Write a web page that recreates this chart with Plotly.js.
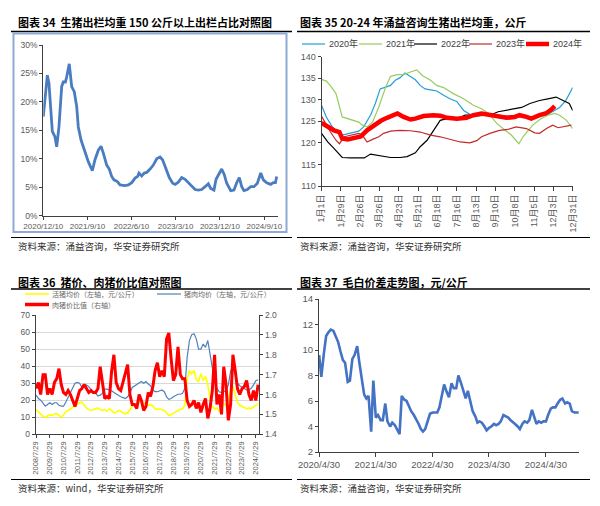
<!DOCTYPE html>
<html><head><meta charset="utf-8">
<script src="https://cdn.plot.ly/plotly-3.0.1.min.js"></script>
<style>html,body{margin:0;padding:0;background:#fff}#chart{width:600px;height:506px}</style>
</head><body><div id="chart"></div>
<script>
// ---------- 图表34 ----------
const dates34 = ['2020-12-10','2021-01-04','2021-01-14','2021-02-04','2021-02-20','2021-03-03','2021-03-17','2021-04-03','2021-04-13','2021-04-26','2021-05-04','2021-05-20','2021-06-04','2021-06-20','2021-07-05','2021-07-15','2021-08-01','2021-08-21','2021-09-15','2021-10-10','2021-10-26','2021-11-16','2021-12-03','2021-12-17','2022-01-07','2022-01-23','2022-02-07','2022-02-21','2022-03-14','2022-03-31','2022-05-01','2022-05-21','2022-06-11','2022-07-02','2022-07-18','2022-07-26','2022-08-12','2022-08-28','2022-09-12','2022-10-03','2022-10-23','2022-11-13','2022-12-04','2022-12-20','2023-01-10','2023-01-30','2023-02-20','2023-03-07','2023-03-27','2023-04-17','2023-05-08','2023-05-28','2023-06-18','2023-07-09','2023-07-29','2023-08-19','2023-09-09','2023-09-29','2023-10-14','2023-11-03','2023-11-16','2023-12-06','2023-12-21','2024-01-06','2024-01-21','2024-02-15','2024-03-06','2024-03-23','2024-04-08','2024-04-23','2024-05-07','2024-05-28','2024-06-18','2024-07-08','2024-07-29','2024-08-19','2024-09-04','2024-09-25','2024-10-20','2024-11-05','2024-11-18','2024-11-26'];
const share150 = [17.4,24.7,23.3,14.8,13.9,12.1,15.6,22.7,23.5,23.5,24.4,26.7,22.7,21.8,19.2,15.6,13.3,11.5,9.5,7.9,9.8,11.5,12.2,11.0,8.9,8.2,6.9,6.3,6.0,5.4,5.3,5.4,5.8,6.6,6.9,7.5,7.0,7.5,7.6,8.2,8.9,10.0,10.3,9.8,8.3,6.7,5.7,5.5,5.9,6.7,6.4,5.8,5.3,4.6,4.5,4.6,5.1,5.6,4.8,4.5,6.4,7.5,8.2,7.2,5.7,4.4,4.5,5.8,6.7,5.1,4.4,4.6,5.1,5.1,5.7,7.5,6.3,5.8,5.5,5.8,5.8,6.9];
const ticks34 = ['2020-12-10','2021-09-10','2022-06-10','2023-03-10','2023-12-10','2024-09-10'];
const tickText34 = ['2020/12/10','2021/9/10','2022/6/10','2023/3/10','2023/12/10','2024/9/10'];

// ---------- 图表35 (x = 一年中的第几天) ----------
const days20 = [1,8,15,22,31,43,55,62,72,79,86,94,101,108,115,122,130,137,144,151,161,168,178,187,197,207,216,226,240,255,269,283,298,312,327,336,346,355,365];
const w2020 = [128.7,126.0,124.1,122.5,121.8,122.2,122.7,123.7,126.4,129.1,132.5,132.9,133.3,134.5,135.1,136.2,135.4,134.6,133.3,132.5,132.2,132.0,131.0,130.2,129.6,127.5,126.6,126.2,126.4,126.4,126.2,126.2,126.0,126.0,126.4,127.2,128.2,129.8,132.8];
const days21 = [1,8,15,22,31,43,55,60,67,75,84,94,101,111,120,130,139,147,159,168,178,192,207,221,233,243,255,267,276,287,293,307,319,329,339,346,356,365];
const w2021 = [134.7,134.3,133.0,131.4,126.0,125.4,124.8,124.1,123.7,124.8,128.3,132.9,135.4,135.8,135.8,136.4,136.9,135.6,134.5,133.3,132.8,131.4,130.2,128.7,127.9,126.8,124.5,122.9,121.8,119.8,121.4,124.1,125.6,126.4,126.8,126.4,125.2,123.3];
const days22 = [1,10,19,31,43,55,63,72,87,101,115,125,137,144,154,163,173,183,197,209,221,233,245,257,267,279,291,303,317,329,341,351,360,365];
const w2022 = [122.2,120.2,118.7,116.6,116.5,116.4,116.5,117.4,116.9,116.6,116.6,116.8,117.7,119.1,120.6,122.8,125.2,125.6,125.5,126.4,126.5,126.8,126.4,127.2,127.5,127.9,128.2,129.1,129.8,130.2,130.6,129.8,129.1,127.5];
const days23 = [1,7,14,22,27,34,43,55,60,67,75,84,91,101,115,130,144,159,173,187,202,216,226,233,245,259,271,283,298,310,317,327,336,344,353,363];
const w2023 = [126.2,124.5,122.5,120.6,119.8,121.4,121.8,122.2,121.8,120.2,120.8,121.4,122.2,122.7,122.9,122.8,122.5,121.8,121.4,120.8,120.2,120.0,120.5,121.4,122.2,122.9,123.1,123.7,123.3,122.3,122.2,123.3,124.1,123.5,123.8,124.1];
const days24 = [1,10,19,27,31,39,48,58,67,77,87,96,106,111,120,130,137,149,163,173,183,197,211,221,233,245,255,269,281,288,298,305,317,327,334,339];
const w2024 = [124.6,123.7,122.9,122.5,121.0,120.8,121.2,121.5,122.9,124.1,125.1,125.8,126.6,126.8,126.0,125.4,125.6,126.2,126.4,126.3,125.8,125.6,125.8,126.4,126.8,126.4,126.0,125.8,126.0,126.4,126.0,125.6,126.4,126.9,127.7,128.5];
const ticks35 = [1,29,57,85,113,141,169,197,225,253,281,309,337,365];
const tickText35 = ['1月1日','1月29日','2月26日','3月26日','4月23日','5月21日','6月18日','7月16日','8月13日','9月10日','10月8日','11月5日','12月3日','12月31日'];
const years35 = ['2020年','2021年','2022年','2023年','2024年'];

// ---------- 图表36 ----------
const dates36 = ['2008-08','2008-10','2008-12',
'2009-02','2009-04','2009-06','2009-08','2009-10','2009-12',
'2010-02','2010-04','2010-06','2010-08','2010-10','2010-12',
'2011-02','2011-04','2011-06','2011-08','2011-10','2011-12',
'2012-02','2012-04','2012-06','2012-08','2012-10','2012-12',
'2013-02','2013-04','2013-06','2013-08','2013-10','2013-12',
'2014-02','2014-04','2014-06','2014-08','2014-10','2014-12',
'2015-02','2015-04','2015-06','2015-08','2015-10','2015-12',
'2016-02','2016-04','2016-06','2016-08','2016-10','2016-12',
'2017-02','2017-04','2017-06','2017-08','2017-10','2017-12',
'2018-02','2018-04','2018-06','2018-08','2018-10','2018-12',
'2019-02','2019-04','2019-06','2019-08','2019-10','2019-12',
'2020-02','2020-04','2020-06','2020-08','2020-10','2020-12',
'2021-02','2021-04','2021-06','2021-08','2021-10','2021-12',
'2022-02','2022-04','2022-06','2022-08','2022-10','2022-12',
'2023-02','2023-04','2023-06','2023-08','2023-10','2023-12',
'2024-02','2024-04','2024-06','2024-08','2024-10'];
const livePig = [14.5,13.0,12.0,10.5,10.0,11.0,11.5,11.0,12.0,12.0,11.0,10.0,11.5,13.5,14.0,15.0,15.5,16.5,17.5,18.5,19.0,17.0,15.5,14.5,14.0,14.5,15.0,15.5,14.5,14.0,14.5,13.5,15.0,14.0,12.5,13.0,14.0,13.5,12.5,12.0,12.5,14.5,16.5,17.5,18.0,18.5,19.5,18.5,17.5,17.0,17.5,16.5,15.0,14.5,15.0,14.5,14.0,12.5,11.0,11.5,12.5,13.5,14.0,14.5,15.0,17.0,32.0,37.5,35.5,37.5,32.0,31.0,35.5,31.5,34.0,29.0,21.0,16.0,15.0,15.5,13.5,15.5,18.0,17.0,20.0,26.0,28.0,23.0,19.0,17.0,16.2,15.5,15.0,15.5,15.0,16.0,17.0,18.0];
const porkPrice = [23.0,21.0,20.0,18.5,16.5,17.5,18.5,17.5,18.5,18.5,17.0,16.5,16.5,19.0,22.0,25.0,27.0,30.0,30.5,30.0,27.5,28.5,29.0,28.0,26.0,24.5,24.0,22.5,23.0,24.0,26.5,26.5,26.0,25.5,24.5,23.5,23.0,22.0,21.5,21.0,22.0,24.0,27.5,28.5,29.5,30.5,31.0,30.0,31.0,29.5,28.5,26.0,25.0,25.0,25.5,26.0,25.0,22.0,20.5,21.0,22.0,23.0,23.5,23.5,24.0,27.0,45.0,55.0,58.5,59.0,56.0,50.0,50.0,53.0,51.0,55.0,47.0,39.0,31.0,27.0,25.0,24.5,25.0,25.5,29.0,37.0,40.5,35.0,30.0,28.5,27.5,26.5,26.0,26.0,27.0,29.0,31.5,32.0];
const ratio = [1.63,1.66,1.60,1.70,1.70,1.60,1.63,1.60,1.66,1.68,1.73,1.65,1.61,1.60,1.62,1.60,1.57,1.54,1.58,1.62,1.63,1.65,1.63,1.61,1.62,1.61,1.61,1.63,1.74,1.65,1.58,1.59,1.58,1.72,1.80,1.66,1.63,1.62,1.66,1.70,1.75,1.60,1.55,1.55,1.53,1.60,1.57,1.52,1.54,1.61,1.59,1.64,1.72,1.76,1.69,1.72,1.69,1.88,1.91,1.78,1.67,1.70,1.84,1.70,1.68,1.68,1.57,1.54,1.55,1.57,1.53,1.56,1.51,1.55,1.58,1.48,1.53,1.62,1.80,1.55,1.60,1.50,1.74,1.65,1.47,1.55,1.80,1.72,1.63,1.60,1.63,1.64,1.67,1.60,1.57,1.62,1.57,1.65];
const ticks36 = ['2008-07-29','2009-07-29','2010-07-29','2011-07-29','2012-07-29','2013-07-29','2014-07-29','2015-07-29','2016-07-29','2017-07-29','2018-07-29','2019-07-29','2020-07-29','2021-07-29','2022-07-29','2023-07-29','2024-07-29'];
const tickText36 = ['2008/7/29','2009/7/29','2010/7/29','2011/7/29','2012/7/29','2013/7/29','2014/7/29','2015/7/29','2016/7/29','2017/7/29','2018/7/29','2019/7/29','2020/7/29','2021/7/29','2022/7/29','2023/7/29','2024/7/29'];
const names36 = ['活猪均价（左轴，元/公斤）','猪肉均价（左轴，元/公斤）','肉猪价比值（右轴）'];

// ---------- 图表37 ----------
const dates37 = ['2020-05-01','2020-05-15','2020-06-01','2020-06-15','2020-07-01','2020-07-15','2020-08-01','2020-08-15','2020-09-01','2020-09-15','2020-10-01','2020-10-15','2020-11-01','2020-11-15','2020-12-01','2020-12-15',
'2021-01-01','2021-01-15','2021-02-01','2021-02-15','2021-03-01','2021-03-15','2021-04-01','2021-04-15','2021-05-01','2021-05-15','2021-06-01','2021-06-15','2021-07-01','2021-07-15','2021-08-01','2021-08-15','2021-09-01','2021-09-15','2021-10-01','2021-10-15','2021-11-01','2021-11-15','2021-12-01','2021-12-15',
'2022-01-01','2022-01-15','2022-02-01','2022-02-15','2022-03-01','2022-03-15','2022-04-01','2022-04-15','2022-05-01','2022-05-15','2022-06-01','2022-06-15','2022-07-01','2022-07-15','2022-08-01','2022-08-15','2022-09-01','2022-09-15','2022-10-01','2022-10-15','2022-11-01','2022-11-15','2022-12-01','2022-12-15',
'2023-01-01','2023-01-15','2023-02-01','2023-02-15','2023-03-01','2023-03-15','2023-04-01','2023-04-15','2023-05-01','2023-05-15','2023-06-01','2023-06-15','2023-07-01','2023-07-15','2023-08-01','2023-08-15','2023-09-01','2023-09-15','2023-10-01','2023-10-15','2023-11-01','2023-11-15','2023-12-01','2023-12-15',
'2024-01-01','2024-01-15','2024-02-01','2024-02-15','2024-03-01','2024-03-15','2024-04-01','2024-04-15','2024-05-01','2024-05-15','2024-06-01','2024-06-15','2024-07-01','2024-07-15','2024-08-01','2024-08-15','2024-09-01','2024-09-15','2024-10-01','2024-10-15','2024-11-01','2024-11-15','2024-11-28'];
const spread = [9.6,7.9,9.8,11.1,11.4,11.6,11.5,11.1,10.6,9.9,9.2,9.0,7.5,7.6,9.3,9.6,10.3,9.0,7.6,6.5,6.2,6.4,3.6,7.6,4.7,4.9,4.5,4.5,5.8,4.4,4.0,4.3,4.1,3.8,3.4,6.4,6.1,6.0,5.5,5.2,4.9,4.6,4.2,3.8,3.6,3.8,4.5,5.0,5.1,5.1,5.1,5.5,6.4,7.3,6.7,6.3,7.4,7.0,7.0,8.0,7.4,6.8,6.2,6.8,6.0,5.2,4.8,4.3,4.4,4.3,4.0,3.7,3.9,4.0,4.2,4.1,4.2,4.4,4.9,4.8,4.7,4.5,4.3,4.2,4.0,3.8,4.2,4.4,4.3,4.5,5.3,4.7,4.2,4.4,4.3,4.4,4.4,4.9,5.4,5.5,5.5,5.8,6.1,6.2,5.8,5.9,5.8,5.2,5.1,5.1,5.1];
const ticks37 = ['2020-04-30','2021-04-30','2022-04-30','2023-04-30','2024-04-30'];
const tickText37 = ['2020/4/30','2021/4/30','2022/4/30','2023/4/30','2024/4/30'];

// ---------- texts ----------
const titles = ['图表 34  生猪出栏均重 150 公斤以上出栏占比对照图','图表 35 20-24 年涌益咨询生猪出栏均重，公斤','图表 36  猪价、肉猪价比值对照图','图表 37  毛白价差走势图，元/公斤'];
const sources = ['资料来源：涌益咨询，华安证券研究所','资料来源：涌益咨询，华安证券研究所','资料来源：wind，华安证券研究所','资料来源：涌益咨询，华安证券研究所'];

// ---------- layout helpers ----------
const W = 600, H = 506;
const fx = p => p / W, fy = p => 1 - p / H;
const TF = 'Liberation Sans, Arial, Noto Sans CJK SC, sans-serif';
const CJK = 'Noto Sans CJK SC, sans-serif';
const AX = '#404040', TXT = '#595959';
const col35 = ['#22a0d8','#98cc5e','#000000','#c32a2a','#ff0000'];
const wid35 = [1.2,1.2,1.2,1.2,4.5];
const col36 = ['#ffff00','#4f81bd','#ff0000'];

function axisBase(extra){
  return Object.assign({showline:true, linecolor:AX, linewidth:1, ticks:'outside', ticklen:3, tickcolor:AX,
    showgrid:false, zeroline:false, fixedrange:true, tickfont:{family:TF, size:8.5, color:TXT}}, extra);
}

const traces = [
  {x:dates34, y:share150, xaxis:'x', yaxis:'y', mode:'lines', line:{color:'#4a7dbf', width:2.8}, hoverinfo:'skip'},
  {x:days20, y:w2020, xaxis:'x2', yaxis:'y2', mode:'lines', name:years35[0], line:{color:col35[0], width:wid35[0]}},
  {x:days21, y:w2021, xaxis:'x2', yaxis:'y2', mode:'lines', name:years35[1], line:{color:col35[1], width:wid35[1]}},
  {x:days22, y:w2022, xaxis:'x2', yaxis:'y2', mode:'lines', name:years35[2], line:{color:col35[2], width:wid35[2]}},
  {x:days23, y:w2023, xaxis:'x2', yaxis:'y2', mode:'lines', name:years35[3], line:{color:col35[3], width:wid35[3]}},
  {x:days24, y:w2024, xaxis:'x2', yaxis:'y2', mode:'lines', name:years35[4], line:{color:col35[4], width:wid35[4]}},
  {x:dates36, y:livePig, xaxis:'x3', yaxis:'y3', mode:'lines', name:names36[0], line:{color:col36[0], width:1.6}},
  {x:dates36, y:porkPrice, xaxis:'x3', yaxis:'y3', mode:'lines', name:names36[1], line:{color:col36[1], width:1.2}},
  {x:dates36, y:ratio, xaxis:'x3', yaxis:'y4', mode:'lines', name:names36[2], line:{color:col36[2], width:3}},
  {x:dates37, y:spread, xaxis:'x4', yaxis:'y5', mode:'lines', line:{color:'#4472c4', width:2.6}}
];

const shapes = [];
const annotations = [];
function hline(x0,x1,y,w,c){ shapes.push({type:'line', xref:'paper', yref:'paper', x0:fx(x0), x1:fx(x1), y0:fy(y), y1:fy(y), line:{color:c||'#000', width:w}}); }
// separator lines
[[31.5,1.4],[237.5,1],[289,1.4],[479.5,1]].forEach(([y,w])=>{ hline(11,292,y,w); hline(297,590,y,w); });
// chart 34 frame
shapes.push({type:'rect', xref:'paper', yref:'paper', x0:fx(13.5), x1:fx(286.5), y0:fy(232), y1:fy(33.5), line:{color:'#8ea9d6', width:2}, fillcolor:'rgba(0,0,0,0)'});
// titles
[[16,22.5],[298,22.5],[16,281.5],[298,281.5]].forEach(([x,y],i)=>{
  annotations.push({xref:'paper', yref:'paper', x:fx(x), y:fy(y), xanchor:'left', yanchor:'middle', showarrow:false,
    text:'<b>'+titles[i]+'</b>', font:{family:CJK, size:11, color:'#000'}});
});
[[16,246.5],[298,246.5],[16,488],[298,488]].forEach(([x,y],i)=>{
  annotations.push({xref:'paper', yref:'paper', x:fx(x), y:fy(y), xanchor:'left', yanchor:'middle', showarrow:false,
    text:sources[i], font:{family:CJK, size:9.5, color:'#333'}});
});
// legend for chart 35
const leg35x = [302,359,414,469,526];
years35.forEach((t,i)=>{
  hline(leg35x[i], leg35x[i]+23, 44, wid35[i], col35[i]);
  annotations.push({xref:'paper', yref:'paper', x:fx(leg35x[i]+25), y:fy(44), xanchor:'left', yanchor:'middle', showarrow:false,
    text:t, font:{family:TF, size:9, color:'#404040'}});
});
// legend for chart 36
const leg36 = [[25,294],[157,294],[25,304.5]];
const legw36 = [1.6,1.2,3.5];
names36.forEach((t,i)=>{
  const [x,y] = leg36[i];
  hline(x, x+24, y, legw36[i], col36[i]);
  annotations.push({xref:'paper', yref:'paper', x:fx(x+26), y:fy(y), xanchor:'left', yanchor:'middle', showarrow:false,
    text:t, borderpad:0, font:{family:CJK, size:7, color:'#666'}});
});

const layout = {
  width:W, height:H, margin:{l:0,r:0,t:0,b:0}, paper_bgcolor:'#fff', plot_bgcolor:'rgba(0,0,0,0)',
  showlegend:false, font:{family:TF},
  xaxis: axisBase({domain:[fx(43.3),fx(278)], anchor:'y', type:'date', range:['2020-12-10','2024-12-04'],
    tickmode:'array', tickvals:ticks34, ticktext:tickText34, tickangle:0, tickfont:{family:TF, size:8, color:TXT}}),
  yaxis: axisBase({domain:[fy(215.7),fy(45)], anchor:'x', range:[0,30], dtick:5, ticksuffix:'%'}),
  xaxis2: axisBase({domain:[fx(321.5),fx(572.7)], anchor:'y2', range:[1,365], tickmode:'array', tickvals:ticks35, ticktext:tickText35,
    tickangle:-90, ticklen:4, tickfont:{family:TF, size:9, color:TXT}}),
  yaxis2: axisBase({domain:[fy(186),fy(56.5)], anchor:'x2', range:[110,140], dtick:5, tickfont:{family:TF, size:9, color:TXT}}),
  xaxis3: axisBase({domain:[fx(35.7),fx(259.3)], anchor:'y3', type:'date', range:['2008-07-21','2024-11-02'],
    tickmode:'array', tickvals:ticks36, ticktext:tickText36, tickangle:-90, tickfont:{family:TF, size:7.5, color:TXT}}),
  yaxis3: axisBase({domain:[fy(434.3),fy(315)], anchor:'x3', range:[0,70], dtick:10, showgrid:true, gridcolor:'#d9d9d9', gridwidth:1,
    tickfont:{family:TF, size:8.5, color:TXT}}),
  yaxis4: axisBase({domain:[fy(434.3),fy(315)], anchor:'x3', overlaying:'y3', side:'right', range:[1.4,2.0], dtick:0.1, tickformat:'.1f',
    tickfont:{family:TF, size:8.5, color:TXT}}),
  xaxis4: axisBase({domain:[fx(319),fx(579)], anchor:'y5', type:'date', range:['2020-04-30','2024-11-30'],
    tickmode:'array', tickvals:ticks37, ticktext:tickText37, tickangle:0, ticklen:4, tickfont:{family:TF, size:9.5, color:TXT}}),
  yaxis5: axisBase({domain:[fy(452),fy(299)], anchor:'x4', range:[2,14], dtick:2, tickfont:{family:TF, size:9.5, color:TXT}}),
  shapes: shapes,
  annotations: annotations
};

Plotly.newPlot('chart', traces, layout, {staticPlot:true, displayModeBar:false});
</script></body></html>
